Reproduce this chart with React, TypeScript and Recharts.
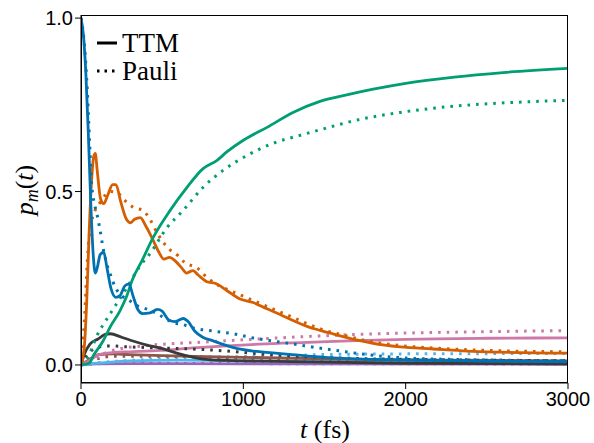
import React from 'react';
import { LineChart, Line, XAxis, YAxis } from 'recharts';

type P = [number, number];

const xTicks = [0, 1000, 2000, 3000];
const yTicks = [0, 0.5, 1.0];

const blueTTM: P[] = [[0,1],[15,0.95],[30,0.84],[45,0.67],[60,0.47],[75,0.32],[88,0.265],[100,0.28],[118,0.318],[140,0.325],[160,0.28],[185,0.22],[215,0.195],[240,0.2],[270,0.228],[295,0.234],[320,0.2],[350,0.16],[380,0.148],[425,0.15],[470,0.16],[500,0.155],[540,0.13],[580,0.125],[630,0.134],[660,0.125],[700,0.098],[750,0.08],[810,0.07],[870,0.06],[940,0.05],[1060,0.04],[1180,0.035],[1300,0.03],[1500,0.022],[1800,0.016],[2200,0.013],[2600,0.011],[3000,0.01]];
const bluePauli: P[] = [[0,1],[20,0.93],[40,0.78],[55,0.62],[66,0.52],[80,0.47],[96,0.44],[117,0.39],[135,0.34],[160,0.29],[180,0.262],[210,0.225],[250,0.2],[300,0.185],[350,0.17],[413,0.16],[490,0.142],[570,0.122],[630,0.116],[690,0.107],[810,0.098],[940,0.09],[1060,0.078],[1180,0.069],[1300,0.061],[1450,0.05],[1600,0.04],[1760,0.03],[2000,0.02],[2200,0.017],[2600,0.014],[3000,0.012]];

const orangeTTM: P[] = [[0,0],[20,0.05],[35,0.18],[50,0.38],[65,0.53],[78,0.6],[88,0.61],[100,0.56],[120,0.48],[140,0.465],[165,0.49],[195,0.52],[215,0.52],[245,0.47],[280,0.42],[305,0.41],[330,0.42],[365,0.425],[400,0.4],[444,0.36],[480,0.325],[510,0.305],[545,0.31],[580,0.3],[620,0.28],[650,0.265],[690,0.272],[720,0.26],[776,0.24],[830,0.235],[900,0.214],[980,0.19],[1060,0.18],[1146,0.162],[1230,0.145],[1306,0.128],[1400,0.11],[1472,0.1],[1550,0.09],[1614,0.082],[1718,0.07],[1800,0.062],[1965,0.052],[2170,0.046],[2380,0.04],[2580,0.037],[3000,0.034]];
const orangePauli: P[] = [[0,0],[20,0.12],[43,0.33],[68,0.42],[86,0.445],[117,0.468],[150,0.49],[179,0.5],[222,0.497],[271,0.474],[320,0.455],[382,0.445],[425,0.42],[470,0.38],[530,0.34],[598,0.315],[640,0.295],[715,0.28],[776,0.252],[830,0.234],[900,0.218],[1000,0.198],[1100,0.178],[1200,0.158],[1300,0.138],[1400,0.118],[1500,0.1],[1600,0.088],[1760,0.07],[1965,0.056],[2170,0.049],[2500,0.042],[3000,0.038]];

const greenTTM: P[] = [[0,0],[50,0.005],[80,0.03],[136,0.069],[180,0.11],[240,0.156],[283,0.2],[314,0.243],[375,0.3],[444,0.367],[548,0.445],[653,0.512],[752,0.566],[838,0.59],[900,0.615],[1000,0.648],[1146,0.685],[1306,0.728],[1472,0.76],[1650,0.78],[1800,0.795],[2000,0.812],[2300,0.83],[2600,0.843],[3000,0.855]];
const greenPauli: P[] = [[0,0],[37,0.017],[98,0.084],[179,0.147],[283,0.223],[363,0.285],[425,0.321],[530,0.396],[628,0.445],[752,0.512],[875,0.561],[1023,0.604],[1183,0.639],[1349,0.662],[1472,0.678],[1718,0.708],[1965,0.728],[2273,0.745],[2581,0.755],[3000,0.763]];

const pinkTTM: P[] = [[0,0],[50,0.012],[110,0.03],[200,0.036],[300,0.038],[490,0.042],[690,0.049],[900,0.055],[1100,0.06],[1400,0.065],[1700,0.07],[2000,0.074],[2500,0.077],[3000,0.078]];
const pinkPauli: P[] = [[0,0],[60,0.01],[110,0.025],[180,0.04],[380,0.055],[590,0.062],[800,0.067],[1020,0.073],[1300,0.08],[1700,0.088],[2000,0.092],[2500,0.096],[3000,0.099]];

const grayTTM: P[] = [[0,0],[20,0.03],[55,0.06],[105,0.075],[150,0.088],[180,0.09],[250,0.08],[320,0.069],[400,0.058],[487,0.049],[570,0.037],[653,0.026],[752,0.017],[900,0.013],[1100,0.011],[1500,0.008],[2000,0.005],[3000,0.003]];
const grayPauli: P[] = [[0,0],[40,0.03],[100,0.05],[170,0.055],[300,0.052],[487,0.049],[690,0.046],[900,0.04],[1100,0.032],[1300,0.026],[1600,0.02],[2200,0.015],[3000,0.012]];

const brownTTM: P[] = [[0,0],[50,0.015],[110,0.03],[200,0.032],[300,0.03],[500,0.027],[700,0.025],[1000,0.022],[1600,0.017],[2200,0.014],[3000,0.012]];
const brownPauli: P[] = [[0,0],[80,0.015],[200,0.025],[500,0.025],[1000,0.02],[2000,0.014],[3000,0.011]];

const skyTTM: P[] = [[0,0],[100,0.005],[300,0.012],[600,0.014],[1000,0.012],[2000,0.01],[3000,0.009]];
const skyPauli: P[] = [[0,0],[100,0.006],[300,0.013],[600,0.02],[1000,0.024],[1300,0.027],[1500,0.03],[2000,0.032],[3000,0.033]];

const purpleTTM: P[] = [[0,0],[100,0.003],[300,0.004],[1000,0.003],[3000,0.002]];
const purplePauli: P[] = [[0,0],[200,0.005],[1000,0.004],[3000,0.003]];

const toPts = (a: P[]) => a.map(([t, p]) => ({ t, p }));

const series: { data: P[]; color: string; dotted: boolean }[] = [
  { data: purplePauli, color: '#9467BD', dotted: true },
  { data: purpleTTM, color: '#9467BD', dotted: false },
  { data: skyPauli, color: '#56B4E9', dotted: true },
  { data: skyTTM, color: '#56B4E9', dotted: false },
  { data: brownPauli, color: '#8C564B', dotted: true },
  { data: brownTTM, color: '#8C564B', dotted: false },
  { data: pinkPauli, color: '#CC79A7', dotted: true },
  { data: pinkTTM, color: '#CC79A7', dotted: false },
  { data: grayPauli, color: '#3A3A3A', dotted: true },
  { data: grayTTM, color: '#3A3A3A', dotted: false },
  { data: orangePauli, color: '#D55E00', dotted: true },
  { data: orangeTTM, color: '#D55E00', dotted: false },
  { data: greenPauli, color: '#009E73', dotted: true },
  { data: greenTTM, color: '#009E73', dotted: false },
  { data: bluePauli, color: '#0072B2', dotted: true },
  { data: blueTTM, color: '#0072B2', dotted: false },
];

const serif = '"Liberation Serif", "Times New Roman", serif';
const sans = '"Liberation Sans", Arial, sans-serif';

const W = 594;
const H = 443;
const M = { top: 15, right: 26, bottom: 0, left: 0 };
const Y_W = 81;
const X_H = 60;

export default function App() {
  return (
    <div style={{ position: 'absolute', left: 0, top: 0, width: W, height: H, background: '#fff' }}>
      <LineChart width={W} height={H} margin={M}>
        <XAxis
          type="number"
          dataKey="t"
          domain={[0, 3000]}
          ticks={xTicks}
          allowDataOverflow
          height={X_H}
          tickSize={6}
          tickMargin={3}
          stroke="#000"
          tick={{ fontSize: 20, fill: '#000', fontFamily: sans }}
        />
        <YAxis
          type="number"
          domain={[-0.052, 1.009]}
          ticks={yTicks}
          allowDataOverflow
          width={Y_W}
          tickSize={6}
          tickMargin={2}
          stroke="#000"
          tickFormatter={(v: number) => v.toFixed(1)}
          tick={{ fontSize: 20, fill: '#000', fontFamily: sans }}
        />
        {series.map((s, i) => (
          <Line
            key={i}
            data={toPts(s.data)}
            dataKey="p"
            type="monotone"
            stroke={s.color}
            strokeWidth={s.dotted ? 3 : 2.8}
            strokeDasharray={s.dotted ? '2.6 6' : undefined}
            dot={false}
            activeDot={false}
            isAnimationActive={false}
          />
        ))}
      </LineChart>
      <svg
        width={W}
        height={H}
        style={{ position: 'absolute', left: 0, top: 0, pointerEvents: 'none' }}
      >
        <rect
          x={M.left + Y_W + 0.5}
          y={M.top + 0.5}
          width={W - M.left - M.right - Y_W - 1}
          height={H - M.top - M.bottom - X_H - 1}
          fill="none"
          stroke="#000"
          strokeWidth={1}
        />
        <line x1={97} x2={117} y1={43} y2={43} stroke="#000" strokeWidth={3} />
        <text x={122} y={52} fontFamily={serif} fontSize={27} fill="#000">TTM</text>
        <line x1={97} x2={117} y1={71} y2={71} stroke="#000" strokeWidth={3} strokeDasharray="2.5 5" />
        <text x={122} y={80} fontFamily={serif} fontSize={27} fill="#000">Pauli</text>
        <text x={325} y={438} fontFamily={serif} fontSize={26} fill="#000" textAnchor="middle">
          <tspan fontStyle="italic">t</tspan> (fs)
        </text>
        <text
          transform="translate(33, 190) rotate(-90)"
          fontFamily={serif}
          fontSize={26}
          fill="#000"
          textAnchor="middle"
        >
          <tspan fontStyle="italic">p</tspan>
          <tspan fontStyle="italic" fontSize={18} dy={5}>m</tspan>
          <tspan dy={-5}>(</tspan>
          <tspan fontStyle="italic">t</tspan>
          <tspan>)</tspan>
        </text>
      </svg>
    </div>
  );
}
